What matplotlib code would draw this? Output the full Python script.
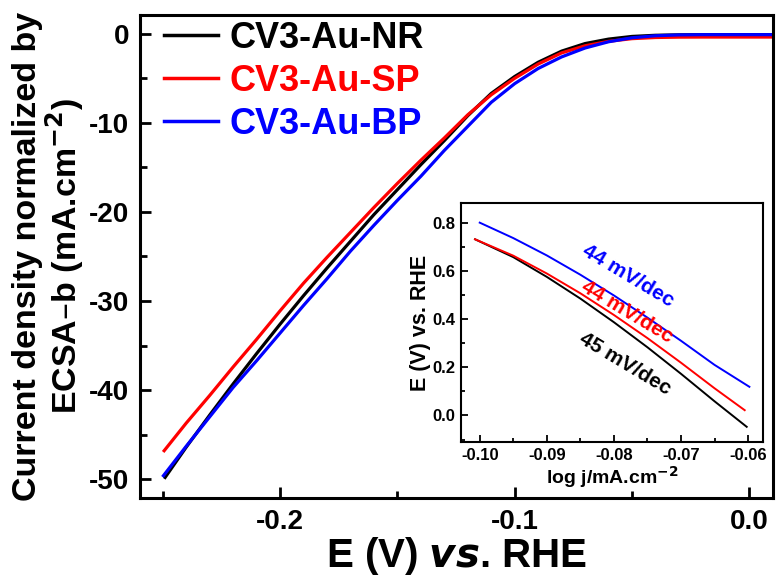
import numpy as np
import matplotlib.pyplot as plt
from matplotlib.ticker import MultipleLocator

plt.rcParams['font.family'] = ['Liberation Sans', 'DejaVu Sans']
plt.rcParams['font.weight'] = 'bold'
plt.rcParams['axes.unicode_minus'] = False
plt.rcParams['mathtext.default'] = 'bf'

# main LSV curves
E_nr = [-0.249, -0.24, -0.23, -0.22, -0.21, -0.20, -0.19, -0.18, -0.17, -0.16,
        -0.15, -0.14, -0.13, -0.12, -0.11, -0.10, -0.09, -0.08, -0.07, -0.06,
        -0.05, -0.04, -0.03, -0.02, 0.0, 0.0102]
j_nr = [-49.8, -46.4, -42.8, -39.3, -35.9, -32.6, -29.4, -26.3, -23.3, -20.3,
        -17.5, -14.7, -12.0, -9.2, -6.7, -4.8, -3.2, -1.95, -1.1, -0.6,
        -0.3, -0.17, -0.12, -0.1, -0.1, -0.1]
E_sp = [-0.2494, -0.24, -0.23, -0.22, -0.21, -0.20, -0.19, -0.18, -0.17, -0.16,
        -0.15, -0.14, -0.13, -0.12, -0.11, -0.10, -0.09, -0.08, -0.07, -0.06,
        -0.05, -0.04, -0.03, -0.02, 0.0, 0.0102]
j_sp = [-46.8, -43.7, -40.6, -37.4, -34.3, -31.1, -28.0, -25.1, -22.3, -19.5,
        -16.8, -14.2, -11.7, -9.1, -6.85, -5.0, -3.4, -2.15, -1.35, -0.85,
        -0.55, -0.42, -0.38, -0.37, -0.37, -0.37]
E_bp = [-0.2497, -0.24, -0.23, -0.22, -0.21, -0.20, -0.19, -0.18, -0.17, -0.16,
        -0.15, -0.14, -0.13, -0.12, -0.11, -0.10, -0.09, -0.08, -0.07, -0.06,
        -0.05, -0.04, -0.03, -0.02, 0.0, 0.0102]
j_bp = [-49.6, -46.3, -43.0, -39.7, -36.7, -33.6, -30.5, -27.5, -24.4, -21.5,
        -18.7, -16.0, -13.1, -10.4, -7.7, -5.6, -3.9, -2.6, -1.6, -0.9,
        -0.45, -0.22, -0.13, -0.1, -0.1, -0.1]
labels = ["CV3-Au-NR", "CV3-Au-SP", "CV3-Au-BP"]
colors = ["black", "red", "blue"]

# Tafel inset
logj_nr = [-0.1007, -0.095, -0.090, -0.085, -0.080, -0.075, -0.070, -0.065, -0.0602]
eta_nr = [0.731, 0.657, 0.575, 0.485, 0.387, 0.283, 0.173, 0.059, -0.047]
logj_sp = [-0.1007, -0.095, -0.090, -0.085, -0.080, -0.075, -0.070, -0.065, -0.0605]
eta_sp = [0.731, 0.663, 0.589, 0.507, 0.417, 0.321, 0.219, 0.113, 0.022]
logj_bp = [-0.100, -0.095, -0.090, -0.085, -0.080, -0.075, -0.070, -0.065, -0.0598]
eta_bp = [0.80, 0.736, 0.664, 0.584, 0.498, 0.406, 0.310, 0.210, 0.119]
slopes = ["45 mV/dec", "44 mV/dec", "44 mV/dec"]

fig = plt.figure(figsize=(7.76, 5.79), dpi=100)
ax = fig.add_axes([0.1804, 0.140, 0.816, 0.834])

for x, j, lab, c in zip([E_nr, E_sp, E_bp], [j_nr, j_sp, j_bp], labels, colors):
    ax.plot(x, j, color=c, lw=2.3, label=lab)

ax.set_xlim(-0.2597, 0.0102)
ax.set_ylim(-52.1, 2.1)
ax.xaxis.set_major_locator(MultipleLocator(0.1))
ax.xaxis.set_minor_locator(MultipleLocator(0.05))
ax.yaxis.set_major_locator(MultipleLocator(10))
ax.yaxis.set_minor_locator(MultipleLocator(5))
ax.tick_params(which='both', direction='in', top=False, right=False, width=2)
ax.tick_params(which='major', length=8, labelsize=20, pad=8)
ax.tick_params(which='minor', length=5)
ax.set_xticks([-0.2, -0.1, 0.0])
ax.set_xticklabels(["-0.2", "-0.1", "0.0"])
for s in ax.spines.values():
    s.set_linewidth(2.2)

ax.set_xlabel("E (V) $\\it{vs}$. RHE", fontsize=29, fontweight='bold', labelpad=0)
ax.set_ylabel("Current density normalized by\nECSA\u2013b (mA.cm$^{-2}$)",
              fontsize=24.5, fontweight='bold', labelpad=2, linespacing=1.0)

leg = ax.legend(loc='upper left', bbox_to_anchor=(0.038, 0.988), frameon=False,
                fontsize=26, handlelength=1.5, handletextpad=0.3,
                labelspacing=0.22, borderpad=0, borderaxespad=0)
for t, c in zip(leg.get_texts(), colors):
    t.set_color(c)
for h in leg.get_lines():
    h.set_linewidth(2.5)

# inset
ins = fig.add_axes([0.594, 0.2366, 0.389, 0.413])
ins.plot(logj_nr, eta_nr, color='black', lw=1.4)
ins.plot(logj_sp, eta_sp, color='red', lw=1.4)
ins.plot(logj_bp, eta_bp, color='blue', lw=1.4)
ins.set_xlim(-0.1028, -0.0578)
ins.set_ylim(-0.11, 0.882)
ins.xaxis.set_minor_locator(MultipleLocator(0.005))
ins.yaxis.set_minor_locator(MultipleLocator(0.1))
ins.set_xticks([-0.10, -0.09, -0.08, -0.07, -0.06])
ins.set_xticklabels(["-0.10", "-0.09", "-0.08", "-0.07", "-0.06"])
ins.set_yticks([0.0, 0.2, 0.4, 0.6, 0.8])
ins.set_yticklabels(["0.0", "0.2", "0.4", "0.6", "0.8"])
ins.tick_params(which='both', direction='in', top=False, right=False, width=1.3)
ins.tick_params(which='major', length=5, labelsize=12, pad=4)
ins.tick_params(which='minor', length=3)
for s in ins.spines.values():
    s.set_linewidth(1.5)
ins.set_xlabel("log j/mA.cm$^{-2}$", fontsize=14, fontweight='bold', labelpad=1)
ins.set_ylabel("E (V) vs. RHE", fontsize=15.5, fontweight='bold', labelpad=1)

ins.text(-0.0779, 0.578, slopes[2], color='blue', fontsize=15, fontweight='bold',
         rotation=-31, ha='center', va='center')
ins.text(-0.0781, 0.428, slopes[1], color='red', fontsize=15, fontweight='bold',
         rotation=-31, ha='center', va='center')
ins.text(-0.0784, 0.215, slopes[0], color='black', fontsize=15, fontweight='bold',
         rotation=-31, ha='center', va='center')

fig.savefig("out.png", dpi=100)
